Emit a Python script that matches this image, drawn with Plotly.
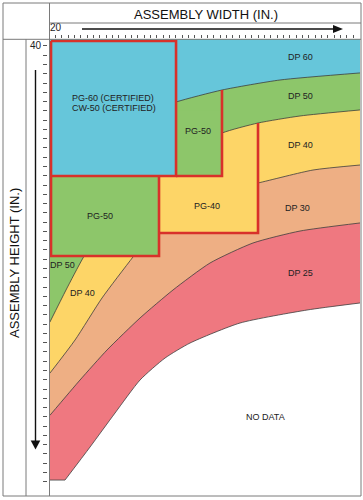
import numpy as np
import plotly.graph_objects as go

FONT = "Liberation Sans, Arial, Helvetica, sans-serif"
W_PX, H_PX = 363, 500

# ---------------- axes (inches) ----------------
WIDTH_TICKS = list(range(20, 68))
HEIGHT_TICKS = list(range(40, 88))
WIDTH_TICK_TEXT = ["20"] + [""] * (len(WIDTH_TICKS) - 1)
HEIGHT_TICK_TEXT = ["40"] + [""] * (len(HEIGHT_TICKS) - 1)
WIDTH_RANGE = [19.05, 68.26]
HEIGHT_RANGE = [88.54, 39.28]          # height grows downward

# ---------------- band boundaries (width in., height in.) ----------------
DP60_DP50_W = [19.1, 27.0, 33.35, 39.04, 46.30, 55.45, 68.1]
DP60_DP50_H = [53.3, 49.6, 47.44, 46.04, 44.75, 43.67, 42.91]

DP50_DP40_W = [19.1, 21.66, 24.34, 28.61, 33.35, 39.67, 46.30, 51.99, 58.63, 68.1]
DP50_DP40_H = [69.8, 66.32, 62.87, 58.23, 55.0, 51.76, 49.39, 48.31, 47.55, 46.90]

DP40_DP30_W = [19.1, 23.08, 27.35, 32.24, 36.35, 41.25, 46.78, 51.99, 60.68, 68.1]
DP40_DP30_H = [75.3, 71.72, 67.18, 62.76, 59.20, 56.94, 55.53, 54.78, 53.38, 52.84]

DP30_DP25_W = [19.1, 23.87, 28.14, 33.35, 38.56, 44.41, 51.20, 58.63, 68.1]
DP30_DP25_H = [79.85, 76.03, 72.79, 69.34, 66.32, 63.41, 61.25, 59.96, 59.09]

DP25_NODATA_W = [19.1, 21.50, 25.45, 29.40, 33.35, 37.30, 41.25, 49.15, 59.73, 68.1]
DP25_NODATA_H = [86.82, 86.82, 83.26, 79.59, 76.03, 73.66, 72.04, 69.88, 68.48, 67.72]

BLUE, GREEN, YELLOW, ORANGE, RED = "#66C6DA", "#8DC66A", "#FDD567", "#EEAF84", "#EF7880"
BOX_RED = "#D8312A"
EDGE = "#3d3d3d"

# band fills, painted bottom band first; each fills everything above its lower boundary
BANDS = [
    ("DP 25", RED, DP25_NODATA_W, DP25_NODATA_H),
    ("DP 30", ORANGE, DP30_DP25_W, DP30_DP25_H),
    ("DP 40", YELLOW, DP40_DP30_W, DP40_DP30_H),
    ("DP 50", GREEN, DP50_DP40_W, DP50_DP40_H),
    ("DP 60", BLUE, DP60_DP50_W, DP60_DP50_H),
]

# ---------------- certified boxes ----------------
BOX_W = {"PG-60": [19.1, 39.04], "PG-50 low": [19.1, 36.35],
         "PG-50 high": [39.04, 46.30], "PG-40": [36.35, 51.99]}
BOX_H = {"PG-60": [39.28, 54.02], "PG-50 low": [54.02, 62.65],
         "PG-50 high": [47.0, 54.02], "PG-40": [54.02, 60.17]}
BOX_COLOR = {"PG-60": BLUE, "PG-50 low": GREEN, "PG-50 high": GREEN, "PG-40": YELLOW}
BORDER_LEFT, BORDER_TOP = 19.29, 39.46

LABELS = [
    ("PG-60 (CERTIFIED)", 29.1, 45.6), ("CW-50 (CERTIFIED)", 29.25, 46.72),
    ("PG-50", 42.5, 49.17), ("PG-50", 27.0, 58.34), ("PG-40", 43.93, 57.26),
    ("DP 60", 58.63, 41.19), ("DP 50", 58.63, 45.39), ("DP 40", 58.63, 50.68),
    ("DP 30", 58.15, 57.48), ("DP 25", 58.63, 64.49), ("NO DATA", 53.1, 80.02),
    ("DP 50", 21.18, 63.62), ("DP 40", 24.27, 66.64),
]

fig = go.Figure()

for name, color, w, h in BANDS:
    if name == "DP 25":
        # flat foot of the band, drawn straight, then the smooth rise
        fig.add_trace(go.Scatter(
            x=w[:2], y=h[:2], mode="lines", fill="tozeroy", fillcolor=color,
            line=dict(color=EDGE, width=0.8), hoverinfo="skip", name=name))
        w, h = w[1:], h[1:]
    fig.add_trace(go.Scatter(
        x=w, y=h, mode="lines", fill="tozeroy", fillcolor=color,
        line=dict(color=EDGE, width=0.8, shape="spline", smoothing=0.6),
        hoverinfo="skip", name=name))

for key in BOX_W:
    (w0, w1), (h0, h1) = BOX_W[key], BOX_H[key]
    fig.add_trace(go.Scatter(
        x=[w0, w1, w1, w0, w0], y=[h0, h0, h1, h1, h0], mode="lines",
        fill="toself", fillcolor=BOX_COLOR[key], line=dict(width=0),
        hoverinfo="skip"))

# red outlines
pg60w, pg60h = BOX_W["PG-60"], BOX_H["PG-60"]
lowW, lowH = BOX_W["PG-50 low"], BOX_H["PG-50 low"]
highW = BOX_W["PG-50 high"]
pg40W, pg40H = BOX_W["PG-40"], BOX_H["PG-40"]
high_top = float(np.interp(highW[1], DP60_DP50_W, DP60_DP50_H))
pg40_top = float(np.interp(pg40W[1], DP50_DP40_W, DP50_DP40_H))
outlines = [
    ([BORDER_LEFT, pg60w[1], pg60w[1], BORDER_LEFT, BORDER_LEFT],
     [BORDER_TOP, BORDER_TOP, pg60h[1], pg60h[1], BORDER_TOP]),
    ([pg60w[1], highW[1], highW[1]], [pg60h[1], pg60h[1], high_top]),
    ([BORDER_LEFT, BORDER_LEFT, lowW[1], lowW[1]], [lowH[0], lowH[1], lowH[1], lowH[0]]),
    ([pg40W[0], pg40W[1], pg40W[1]], [pg40H[1], pg40H[1], pg40_top]),
]
for ow, oh in outlines:
    fig.add_trace(go.Scatter(x=ow, y=oh, mode="lines",
                             line=dict(color=BOX_RED, width=2.6), hoverinfo="skip"))

for text, w, h in LABELS:
    fig.add_annotation(x=w, y=h, xref="x", yref="y", text=text, showarrow=False,
                       font=dict(family=FONT, size=9, color="#222"),
                       xanchor="center", yanchor="middle")


def px(x):
    return x / W_PX


def py(y):
    return 1 - y / H_PX


frame = "#7a7a7a"
shapes = [
    dict(type="rect", x0=px(3), x1=px(361), y0=py(3), y1=py(496), line=dict(color=frame, width=1)),
    dict(type="line", x0=px(3), x1=px(361), y0=py(39.3), y1=py(39.3), line=dict(color=frame, width=1)),
    dict(type="line", x0=px(49.5), x1=px(361), y0=py(23), y1=py(23), line=dict(color=frame, width=1)),
    dict(type="line", x0=px(49.5), x1=px(49.5), y0=py(3), y1=py(496), line=dict(color=frame, width=1)),
    dict(type="line", x0=px(26), x1=px(26), y0=py(39.3), y1=py(496), line=dict(color=frame, width=1)),
    # width arrow
    dict(type="line", x0=px(82), x1=px(335), y0=py(29), y1=py(29), line=dict(color="#111", width=1.4)),
    dict(type="path", path=f"M {px(333)},{py(25)} L {px(343)},{py(29)} L {px(333)},{py(33)} Z",
         fillcolor="#111", line=dict(width=0)),
    # height arrow
    dict(type="line", x0=px(35.5), x1=px(35.5), y0=py(70), y1=py(442), line=dict(color="#111", width=1.4)),
    dict(type="path", path=f"M {px(30.7)},{py(440.5)} L {px(40.3)},{py(440.5)} L {px(35.5)},{py(449.5)} Z",
         fillcolor="#111", line=dict(width=0)),
]
for s in shapes:
    s.update(xref="paper", yref="paper", layer="above")

fig.add_annotation(x=px(206), y=py(14), xref="paper", yref="paper", text="ASSEMBLY WIDTH (IN.)",
                   showarrow=False, font=dict(family=FONT, size=13, color="#111"),
                   xanchor="center", yanchor="middle")
fig.add_annotation(x=px(14), y=py(263), xref="paper", yref="paper", text="ASSEMBLY HEIGHT (IN.)",
                   showarrow=False, textangle=-90, font=dict(family=FONT, size=13, color="#111"),
                   xanchor="center", yanchor="middle")

fig.update_layout(
    width=W_PX, height=H_PX, margin=dict(l=0, r=0, t=0, b=0),
    paper_bgcolor="white", plot_bgcolor="white", showlegend=False,
    shapes=shapes,
    xaxis=dict(domain=[px(49.5), px(361)], range=WIDTH_RANGE, side="top", anchor="y",
               tickmode="array", tickvals=WIDTH_TICKS, ticktext=WIDTH_TICK_TEXT,
               ticks="outside", ticklen=3, tickwidth=1, tickcolor="#555",
               tickfont=dict(family=FONT, size=10, color="#222"),
               showgrid=False, zeroline=False, showline=False, fixedrange=True),
    yaxis=dict(domain=[py(496), py(39.3)], range=HEIGHT_RANGE, anchor="free", position=px(47),
               tickmode="array", tickvals=HEIGHT_TICKS, ticktext=HEIGHT_TICK_TEXT,
               ticks="outside", ticklen=4, tickwidth=1, tickcolor="#555",
               tickfont=dict(family=FONT, size=10, color="#222"),
               showgrid=False, zeroline=False, showline=False, fixedrange=True),
)

fig.write_html("out.html", config={"displayModeBar": False},
               post_script="document.body.style.margin='0px';document.body.style.padding='0px';")
